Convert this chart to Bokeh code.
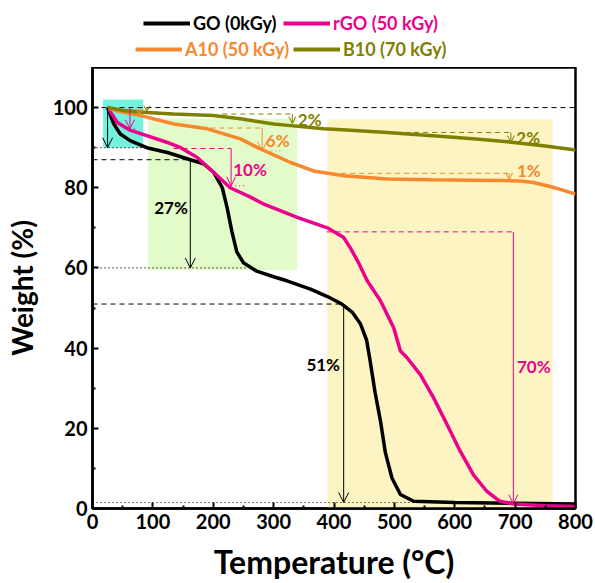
from bokeh.plotting import figure
from bokeh.layouts import column
from bokeh.models import (Range1d, FixedTicker, BoxAnnotation, Label, Arrow, OpenHead,
                          Legend, LegendItem)
from bokeh.embed import file_html
from bokeh.resources import INLINE

# ---------------- data ----------------
T_go = [25, 35, 46, 63, 90, 124, 162, 184, 201, 215, 223, 231, 239, 250, 272, 300, 322, 361,
        390, 413, 430, 444, 454, 459, 468, 477, 485, 496, 510, 532, 600, 700, 800]
W_go = [100, 96, 93.4, 91.7, 90, 88.8, 87.0, 86.0, 83.8, 80, 75, 69, 64, 61.3, 59.2, 57.8, 56.8,
        54.7, 52.8, 51, 49, 46, 42, 37.6, 29, 21.8, 14, 7.6, 3.5, 1.8, 1.5, 1.3, 1.1]

T_rgo = [25, 41, 63, 90, 124, 146, 173, 201, 228, 260, 284, 339, 389, 416, 427, 440, 455, 477,
         499, 510, 521, 543, 565, 587, 609, 631, 653, 675, 698, 750, 800]
W_rgo = [100, 96.3, 94.3, 93, 91.3, 90, 87.6, 83.8, 80, 77.8, 75.9, 72.6, 70, 67.6, 65, 61.5,
         56.8, 51.8, 45, 39.3, 37.6, 33.4, 27.6, 21, 14.3, 8.4, 4.3, 1.8, 1.1, 0.7, 0.5]

T_a10 = [25, 40, 80, 135, 190, 245, 278, 328, 366, 416, 488, 560, 626, 680, 709, 730, 753, 775, 800]
W_a10 = [100, 99.2, 98, 95.9, 94.7, 92.2, 89.7, 86.3, 84.2, 83.0, 82.2, 82.0, 81.9, 81.8, 81.7,
         81.3, 80.5, 79.6, 78.4]

T_b10 = [25, 50, 90, 134, 200, 245, 300, 328, 383, 421, 488, 540, 598, 650, 698, 750, 800]
W_b10 = [100, 99.3, 98.8, 98.4, 98, 97.2, 95.9, 95.5, 94.7, 94.4, 93.8, 93.2, 92.6, 92.0, 91.3,
         90.4, 89.4]

series_names = ["GO (0kGy)", "rGO (50 kGy)", "A10 (50 kGy)", "B10 (70 kGy)"]
x_ticks = [0, 100, 200, 300, 400, 500, 600, 700, 800]
y_ticks = [0, 20, 40, 60, 80, 100]
loss_labels = ["27%", "51%", "10%", "70%", "6%", "1%", "2%", "2%"]

BLACK = "black"
PINK = "#EC008C"
ORANGE = "#F7882F"
OLIVE = "#808000"
FONT = "Lato"

p = figure(width=595, height=516, x_range=Range1d(0, 800), y_range=Range1d(0, 110),
           output_backend="svg", toolbar_location=None,
           min_border_left=92, min_border_right=20, min_border_top=0, min_border_bottom=75)
p.grid.visible = False
p.outline_line_color = "black"
p.outline_line_width = 2.5
p.background_fill_color = "white"

# ---------------- shaded regions ----------------
p.add_layout(BoxAnnotation(left=17.5, right=84, bottom=90, top=102, fill_color="#74F2DE",
                           fill_alpha=1, line_color=None, level="underlay"))
p.add_layout(BoxAnnotation(left=92, right=339, bottom=59.5, top=97.3, fill_color="#E3FAC9",
                           fill_alpha=1, line_color=None, level="underlay"))
p.add_layout(BoxAnnotation(left=389, right=762, bottom=0, top=97, fill_color="#FCF5C3",
                           fill_alpha=1, line_color=None, level="underlay"))

# ---------------- reference lines ----------------
p.segment(x0=[0, 0, 0], y0=[100, 87, 51], x1=[800, 162, 416], y1=[100, 87, 51],
          line_color=BLACK, line_width=1, line_dash="5 4")
p.segment(x0=[0, 0, 0], y0=[90, 60, 1.5], x1=[84, 255, 800], y1=[90, 60, 1.5],
          line_color=BLACK, line_width=1.2, line_dash="1 3")
p.segment(x0=[134, 388], y0=[89.8, 69], x1=[229.6, 697], y1=[89.8, 69],
          line_color=PINK, line_width=1, line_dash="5 4")
p.segment(x0=[229.6, 62], y0=[80.5, 94.7], x1=[253, 74], y1=[80.5, 94.7],
          line_color=PINK, line_width=1.2, line_dash="1 3")
p.segment(x0=[195, 382], y0=[94.9, 83.6], x1=[283, 690], y1=[94.9, 83.6],
          line_color=ORANGE, line_width=1, line_dash="5 4")
p.segment(x0=[283, 637], y0=[89.2, 82], x1=[314, 690], y1=[89.2, 82],
          line_color=ORANGE, line_width=1.2, line_dash="1 3")
p.segment(x0=[215, 488], y0=[98.4, 93.8], x1=[331, 693], y1=[98.4, 93.8],
          line_color=OLIVE, line_width=1, line_dash="5 4")

# ---------------- curves ----------------
series = [(T_go, W_go, BLACK), (T_rgo, W_rgo, PINK), (T_a10, W_a10, ORANGE), (T_b10, W_b10, OLIVE)]
for T, W, c in series:
    p.line(T, W, line_color=c, line_width=3.5)

# ---------------- arrows ----------------
arrows = [
    (25, 100, 90, BLACK, 10),
    (162, 87, 60, BLACK, 10),
    (416, 51, 1.5, BLACK, 10),
    (62, 100, 94.7, PINK, 9),
    (229.6, 89.8, 80.5, PINK, 9),
    (697, 69, 1.2, PINK, 9),
    (78, 100, 98, ORANGE, 7),
    (281, 94.9, 89.2, ORANGE, 9),
    (690, 83.6, 82, ORANGE, 7),
    (90, 100, 99, OLIVE, 6),
    (331, 98.4, 96, OLIVE, 7),
    (693, 93.8, 91.3, OLIVE, 7),
]
for x, y0, y1, c, s in arrows:
    p.add_layout(Arrow(end=OpenHead(size=s, line_color=c, line_width=1),
                       x_start=x, y_start=y0, x_end=x, y_end=y1,
                       line_color=c, line_width=1))

# ---------------- labels ----------------
labs = [
    (loss_labels[0], 158, 75, "right", BLACK),
    (loss_labels[1], 410, 36, "right", BLACK),
    (loss_labels[2], 233, 84.5, "left", PINK),
    (loss_labels[3], 703, 35.5, "left", PINK),
    (loss_labels[4], 287, 91.8, "left", ORANGE),
    (loss_labels[5], 703, 84.3, "left", ORANGE),
    (loss_labels[6], 340, 97, "left", OLIVE),
    (loss_labels[7], 702, 92.6, "left", OLIVE),
]
for t, x, y, al, c in labs:
    p.add_layout(Label(x=x, y=y, text=t, text_align=al, text_baseline="middle",
                       text_color=c, text_font=FONT, text_font_style="bold",
                       text_font_size="17px"))

# ---------------- axes ----------------
p.xaxis.ticker = FixedTicker(ticks=x_ticks, minor_ticks=[50, 150, 250, 350, 450, 550, 650, 750])
p.yaxis.ticker = FixedTicker(ticks=y_ticks, minor_ticks=[10, 30, 50, 70, 90])
for ax in (p.xaxis, p.yaxis):
    ax.axis_line_width = 2.5
    ax.axis_line_color = "black"
    ax.major_tick_in = 6
    ax.major_tick_out = 0
    ax.minor_tick_in = 3
    ax.minor_tick_out = 0
    ax.major_tick_line_width = 2
    ax.minor_tick_line_width = 2
    ax.major_label_text_font = FONT
    ax.major_label_text_font_style = "bold"
    ax.major_label_text_font_size = "20px"
    ax.major_label_text_color = "black"
    ax.axis_label_text_font = FONT
    ax.axis_label_text_font_style = "bold"
    ax.axis_label_text_color = "black"
p.xaxis.major_label_standoff = 5
p.yaxis.major_label_standoff = 5
p.xaxis.axis_label = "Temperature (°C)"
p.xaxis.axis_label_text_font_size = "32px"
p.xaxis.axis_label_standoff = 10
p.yaxis.axis_label = "Weight (%)"
p.yaxis.axis_label_text_font_size = "28px"
p.yaxis.axis_label_standoff = 11

# ---------------- legend strip above the plot ----------------
# the series are drawn again here, outside the visible range, only to serve as legend glyphs
leg = figure(width=595, height=67, x_range=Range1d(-20, -10), y_range=Range1d(-20, -10),
             output_backend="svg", toolbar_location=None,
             min_border_left=92, min_border_right=20, min_border_top=0, min_border_bottom=0)
leg.axis.visible = False
leg.grid.visible = False
leg.outline_line_color = None

legend_locs = [(51, 33), (191, 33), (43, 7), (201, 7)]
for (T, W, c), name, loc in zip(series, series_names, legend_locs):
    r = leg.line(T, W, line_color=c, line_width=4)
    lg = Legend(items=[LegendItem(label=name, renderers=[r])], location=loc,
                orientation="horizontal", padding=0, margin=0, spacing=0,
                label_standoff=3, glyph_width=47, glyph_height=20, label_height=20,
                border_line_color=None, background_fill_alpha=0,
                label_text_font=FONT, label_text_font_style="bold",
                label_text_font_size="18px", label_text_color=c)
    leg.add_layout(lg)

layout = column(leg, p, spacing=0)
open("out.html", "w").write(file_html(layout, INLINE))
